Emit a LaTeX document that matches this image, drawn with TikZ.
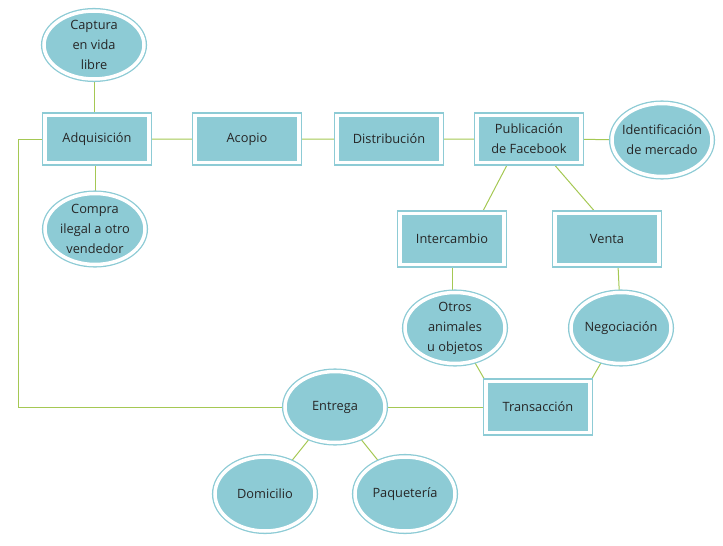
\documentclass[tikz,border=0pt]{standalone}
\usepackage{fontspec}
\setmainfont{Open Sans}
\usetikzlibrary{shapes.geometric,backgrounds}
\definecolor{turq}{HTML}{8DCBD5}
\definecolor{linea}{HTML}{A5C853}
\definecolor{letra}{HTML}{262626}
\tikzset{
  caja/.style={rectangle,draw=turq,fill=turq,double=white,double distance=3.5pt,line width=1.3pt,
    minimum width=104pt,minimum height=47pt,inner sep=0pt,align=center,text=letra,
    font=\fontsize{12.8}{20}\selectfont},
  ovalo/.style={caja,ellipse,inner sep=-12pt,minimum width=100pt,minimum height=71pt},
  liga/.style={draw=linea,line width=1pt}
}

\begin{document}
\begin{tikzpicture}[x=1pt,y=-1pt]
    \useasboundingbox (0,0) rectangle (723,546);
    \node[ovalo,minimum height=68pt] (capt) at (94,45) {Captura\\en vida\\libre};
    \node[caja] (adq) at (97,139) {Adquisición};
    \node[ovalo] (compra) at (95,229) {Compra\\ilegal a otro\\vendedor};
    \node[caja] (acopio) at (247,139) {Acopio};
    \node[caja] (distr) at (389,139) {Distribución};
    \node[caja] (publ) at (529,139) {Publicación\\de Facebook};
    \node[ovalo,minimum height=73pt] (ident) at (662,140) {Identificación\\de mercado};
    \node[caja,minimum height=51pt] (inter) at (452,239) {Intercambio};
    \node[caja,minimum height=51pt] (venta) at (607,239) {Venta};
    \node[ovalo] (otros) at (455,328) {Otros\\animales\\u objetos};
    \node[ovalo] (nego) at (621,328) {Negociación};
    \node[caja,minimum height=51pt] (trans) at (538,407) {Transacción};
    \node[ovalo] (entrega) at (335,407) {Entrega};
    \node[ovalo,minimum height=74pt] (domic) at (265,494) {Domicilio};
    \node[ovalo,minimum height=74pt] (paq) at (405,494) {Paquetería};
    \coordinate (esq) at (18,407);
    \begin{scope}[on background layer]
    \draw[liga] (capt) -- (capt |- adq.north);
    \draw[liga] (compra) -- (compra |- adq.south);
    \draw[liga] (adq) -- (acopio) -- (distr) -- (publ) -- (ident);
    \draw[liga] ([xshift=-21pt]publ.south) -- ([xshift=30pt]inter.north);
    \draw[liga] ([xshift=24pt]publ.south) -- ([xshift=-11pt]venta.north);
    \draw[liga] (inter) -- (inter |- otros);
    \draw[liga] ([xshift=11pt]venta.south) -- (nego);
    \draw[liga] (otros) -- (trans.north west);
    \draw[liga] (nego) -- (trans.north east);
    \draw[liga] (trans) -- (entrega);
    \draw[liga] (entrega) -- (domic);
    \draw[liga] (entrega) -- (paq);
    \draw[liga] (entrega) -- (esq) |- (adq);
    \end{scope}
\end{tikzpicture}
\end{document}
